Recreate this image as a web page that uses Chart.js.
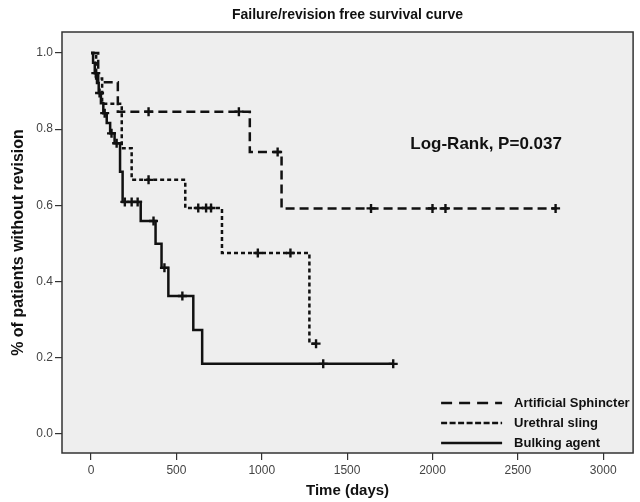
<!DOCTYPE html>
<html>
<head>
<meta charset="utf-8">
<script src="https://cdn.jsdelivr.net/npm/chart.js@4.4.0/dist/chart.umd.min.js"></script>
<style>
  html, body { margin: 0; padding: 0; background: #fff; }
  #wrap { width: 640px; height: 502px; }
</style>
</head>
<body>
<div id="wrap"><canvas id="km" width="640" height="502"></canvas></div>
<script>
// KM steps: time in days, fraction without revision
const asTime = [0, 42, 157, 930, 1116, 2727];
const asSurv = [1, 0.923, 0.846, 0.740, 0.592, 0.592];
const asCens = [337, 866, 1093, 1640, 2000, 2076, 2721];

const usTime = [0, 30, 65, 180, 238, 552, 767, 1279, 1322];
const usSurv = [1, 0.933, 0.867, 0.750, 0.667, 0.593, 0.475, 0.237, 0.237];
const usCens = [337, 628, 674, 703, 977, 1168, 1318];

const baTime = [0, 12, 22, 35, 45, 58, 72, 92, 112, 138, 170, 185, 291, 378, 413, 453, 599, 651, 1773];
const baSurv = [1, 0.974, 0.947, 0.921, 0.895, 0.868, 0.842, 0.816, 0.789, 0.763, 0.688, 0.609, 0.559, 0.499, 0.436, 0.362, 0.273, 0.184, 0.184];
const baCens = [28, 50, 80, 120, 150, 198, 238, 273, 366, 430, 535, 1360, 1770];

const xTicks = [0, 500, 1000, 1500, 2000, 2500, 3000];
const yTicks = [0, 0.2, 0.4, 0.6, 0.8, 1.0];

const seriesNames = ['Artificial Sphincter', 'Urethral sling', 'Bulking agent'];
const dashes = [[9, 5], [4, 3], []];

const sans = "'Liberation Sans', Arial, sans-serif";
const ink = '#111';

function survAt(times, surv, t) {
  let s = surv[0];
  for (let i = 0; i < times.length; i++) {
    if (times[i] <= t) s = surv[i];
  }
  return s;
}

function lineSet(times, surv, dash) {
  return {
    data: times.map((t, i) => ({x: t, y: surv[i]})),
    showLine: true,
    stepped: true,
    borderColor: ink,
    borderWidth: 2.5,
    borderDash: dash,
    pointRadius: 0,
    fill: false
  };
}

function censSet(cens, times, surv) {
  return {
    data: cens.map(t => ({x: t, y: survAt(times, surv, t)})),
    showLine: false,
    pointStyle: 'cross',
    pointRadius: 4.5,
    pointBorderWidth: 2.4,
    pointBorderColor: ink,
    borderColor: ink
  };
}

const decor = {
  id: 'decor',
  beforeDraw(chart) {
    const {ctx, chartArea: a} = chart;
    ctx.save();
    ctx.fillStyle = '#fff';
    ctx.fillRect(0, 0, chart.width, chart.height);
    ctx.fillStyle = '#eeeeee';
    ctx.fillRect(a.left, a.top, a.right - a.left, a.bottom - a.top);
    ctx.restore();
  },
  afterDraw(chart) {
    const {ctx, chartArea: a, scales} = chart;
    ctx.save();
    ctx.strokeStyle = '#333';
    ctx.lineWidth = 1.5;
    ctx.strokeRect(a.left, a.top, a.right - a.left, a.bottom - a.top);

    // title
    ctx.fillStyle = ink;
    ctx.textAlign = 'center';
    ctx.textBaseline = 'middle';
    ctx.font = 'bold 14px ' + sans;
    ctx.fillText('Failure/revision free survival curve', (a.left + a.right) / 2, 15);

    // log-rank note
    ctx.textAlign = 'left';
    ctx.font = 'bold 17px ' + sans;
    ctx.fillText('Log-Rank, P=0.037', scales.x.getPixelForValue(1870), scales.y.getPixelForValue(0.76));

    // legend
    ctx.font = 'bold 13px ' + sans;
    seriesNames.forEach((name, i) => {
      const y = a.bottom - 50 + i * 20;
      ctx.beginPath();
      ctx.setLineDash(i === 0 ? [11, 7] : dashes[i].length ? [6, 2.5] : []);
      ctx.lineWidth = 2.5;
      ctx.strokeStyle = ink;
      ctx.moveTo(a.right - 192, y);
      ctx.lineTo(a.right - 131, y);
      ctx.stroke();
      ctx.setLineDash([]);
      ctx.fillText(name, a.right - 119, y);
    });
    ctx.restore();
  }
};

new Chart(document.getElementById('km'), {
  type: 'scatter',
  data: {
    datasets: [
      lineSet(asTime, asSurv, dashes[0]),
      lineSet(usTime, usSurv, dashes[1]),
      lineSet(baTime, baSurv, dashes[2]),
      censSet(asCens, asTime, asSurv),
      censSet(usCens, usTime, usSurv),
      censSet(baCens, baTime, baSurv)
    ]
  },
  options: {
    responsive: false,
    animation: false,
    layout: { padding: { top: 32, right: 3, left: 0, bottom: 0 } },
    plugins: {
      legend: { display: false },
      tooltip: { enabled: false },
      title: { display: false }
    },
    scales: {
      x: {
        type: 'linear',
        min: -170,
        max: 3175,
        afterBuildTicks: s => { s.ticks = xTicks.map(v => ({value: v})); },
        afterFit: s => { s.height = 49; },
        grid: { drawOnChartArea: false, drawTicks: true, tickLength: 7, color: '#333', lineWidth: 1.2 },
        border: { display: false },
        ticks: { color: '#444', font: { family: sans, size: 12 }, padding: 3, callback: v => String(v) },
        title: { display: true, text: 'Time (days)', color: ink, font: { family: sans, size: 15, weight: 'bold' }, padding: { top: 0, bottom: 2 } }
      },
      y: {
        type: 'linear',
        min: -0.05,
        max: 1.055,
        afterBuildTicks: s => { s.ticks = yTicks.map(v => ({value: v})); },
        afterFit: s => { s.width = 62; },
        grid: { drawOnChartArea: false, drawTicks: true, tickLength: 7, color: '#333', lineWidth: 1.2 },
        border: { display: false },
        ticks: { color: '#444', font: { family: sans, size: 12 }, padding: 2, callback: v => v.toFixed(1) },
        title: { display: true, text: '% of patients without revision', color: ink, font: { family: sans, size: 16, weight: 'bold' }, padding: { top: 9, bottom: 0 } }
      }
    }
  },
  plugins: [decor]
});
</script>
</body>
</html>
